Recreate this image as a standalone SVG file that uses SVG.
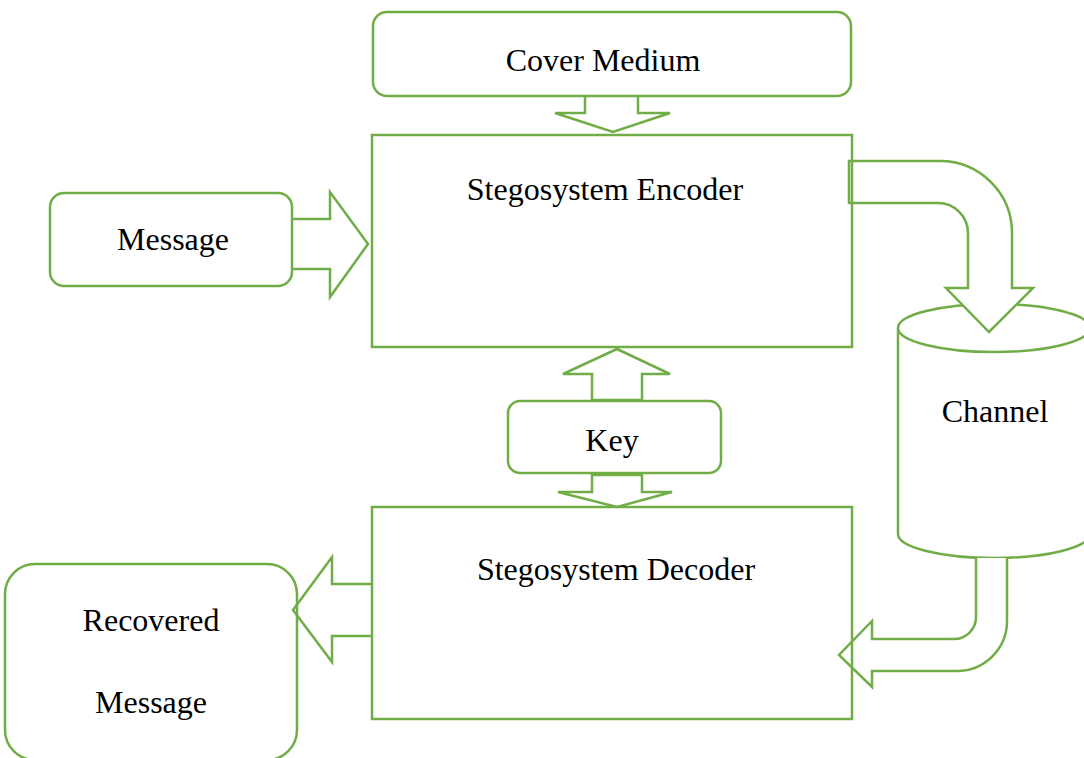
<svg xmlns="http://www.w3.org/2000/svg" width="1084" height="758" viewBox="0 0 1084 758">
<style>
.s{stroke:#70AD47;stroke-width:2.5;stroke-linejoin:miter}
.a{fill:#fff}
.b{fill:none}
text{font-family:"Liberation Serif","Times New Roman",serif;font-size:32px;fill:#000;text-anchor:middle}
</style>
<rect width="1084" height="758" fill="#fff"/>
<g id="channel">
<path class="s" fill="#fff" d="M898,328 L898,534 A96,24 0 0 0 1090,534 L1090,328"/>
<ellipse class="s" fill="#fff" cx="994" cy="328" rx="96" ry="24"/>
<text x="995" y="422">Channel</text>
</g>
<g id="connectors">
<path class="s a" d="M585,96 L585,113 L555,113 L613,132 L670,113 L638,113 L638,96"/>
<path class="s a" d="M292,219 L330,219 L330,192 L368,244 L330,297 L330,269 L292,269"/>
<path class="s a" d="M592,400 L592,374 L563,374 L617,349 L670,374 L642,374 L642,400 Z"/>
<path class="s a" d="M592,475 L592,492 L558,492 L617,507 L672,492 L642,492 L642,475 Z"/>
<path class="s a" d="M372,584 L332,584 L332,557 L293,610 L332,662 L332,636 L372,636"/>
<path class="s a" d="M849,161 L940,161 A72,72 0 0 1 1012,233 L1012,288 L1033,288 L989,332 L946,288 L968,288 L968,233 A30,30 0 0 0 938,203 L849,203 Z"/>
<path class="s a" d="M976,558 L976,617 A22,22 0 0 1 954,639 L872,639 L872,621 L839,655 L872,687 L872,671 L957,671 A50,50 0 0 0 1007,621 L1007,558"/>
</g>
<g id="cover-medium">
<rect class="s b" x="373" y="12" width="478" height="84" rx="14"/>
<text x="603" y="71">Cover Medium</text>
</g>
<g id="encoder">
<rect class="s b" x="372" y="135" width="480" height="212"/>
<text x="605" y="200">Stegosystem Encoder</text>
</g>
<g id="message">
<rect class="s b" x="50" y="193" width="242" height="93" rx="14"/>
<text x="173" y="250">Message</text>
</g>
<g id="key">
<rect class="s b" x="508" y="401" width="213" height="72" rx="12"/>
<text x="612" y="451">Key</text>
</g>
<g id="decoder">
<rect class="s b" x="372" y="507" width="480" height="212"/>
<text x="616" y="580">Stegosystem Decoder</text>
</g>
<g id="recovered-message">
<rect class="s b" x="5" y="564" width="292" height="196" rx="30"/>
<text x="151" y="631">Recovered</text>
<text x="151" y="713">Message</text>
</g>
</svg>
